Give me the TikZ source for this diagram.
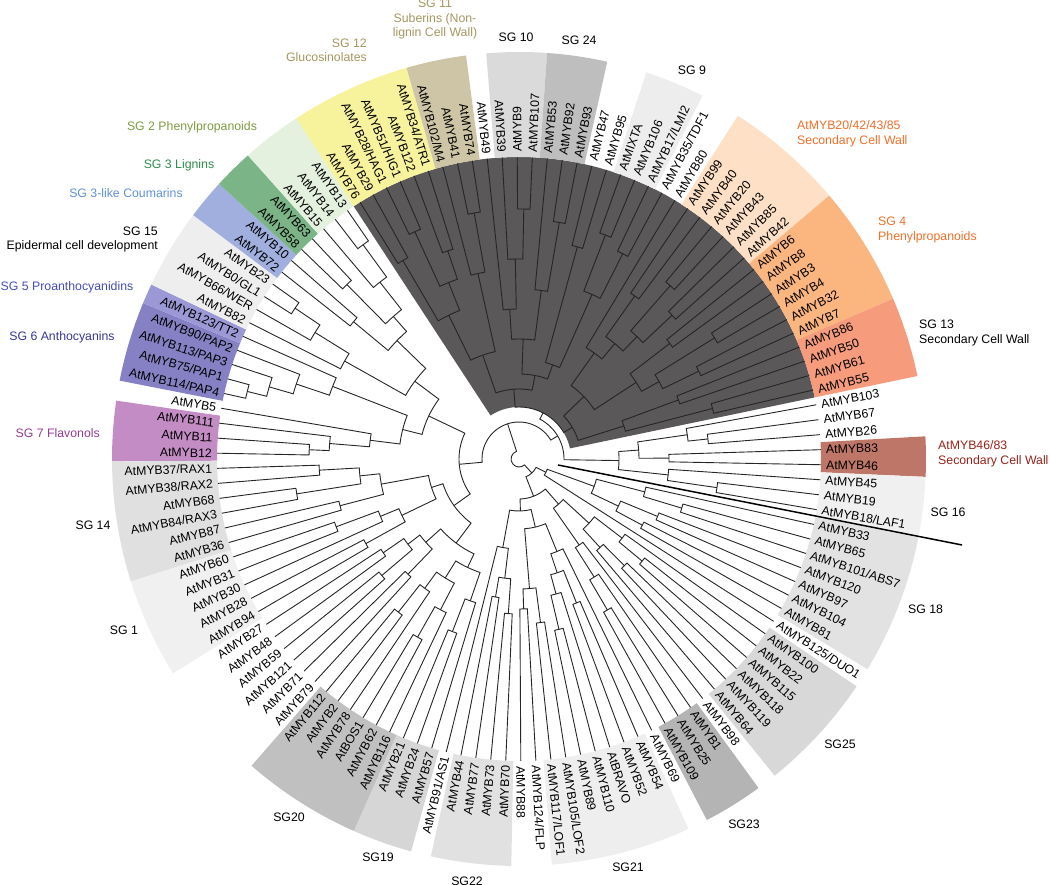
\documentclass[tikz,border=0pt]{standalone}
\usepackage{fontspec}
\setmainfont{Liberation Sans}
\usepackage{xcolor}
% band colours
\definecolor{clade}{RGB}{90,88,89}
\definecolor{sg1}{RGB}{240,240,240}
\definecolor{sg2}{RGB}{228,241,222}
\definecolor{sg3}{RGB}{122,180,135}
\definecolor{sg3l}{RGB}{160,175,222}
\definecolor{sg4}{RGB}{251,182,128}
\definecolor{sg5}{RGB}{155,152,214}
\definecolor{sg6}{RGB}{134,129,196}
\definecolor{sg7}{RGB}{196,140,196}
\definecolor{sg9}{RGB}{237,237,237}
\definecolor{sg10}{RGB}{218,218,218}
\definecolor{sg11}{RGB}{205,197,165}
\definecolor{sg12}{RGB}{247,243,157}
\definecolor{sg13}{RGB}{246,155,123}
\definecolor{sg14}{RGB}{224,224,224}
\definecolor{sg15}{RGB}{238,238,238}
\definecolor{sg16}{RGB}{240,240,240}
\definecolor{sg18}{RGB}{226,226,226}
\definecolor{sg19}{RGB}{214,214,214}
\definecolor{sg20}{RGB}{192,192,192}
\definecolor{sg21}{RGB}{238,238,238}
\definecolor{sg22}{RGB}{225,225,225}
\definecolor{sg23}{RGB}{180,180,180}
\definecolor{sg24}{RGB}{190,190,190}
\definecolor{sg25}{RGB}{216,216,216}
\definecolor{peach}{RGB}{253,224,197}
\definecolor{brownsg}{RGB}{190,118,104}
% title colours
\definecolor{txtolive}{RGB}{163,150,96}
\definecolor{txtorange}{RGB}{240,110,40}
\definecolor{txtbrown}{RGB}{150,35,25}
\definecolor{txtpurple}{RGB}{150,60,150}
\definecolor{txtindigo}{RGB}{55,55,150}
\definecolor{txtblue}{RGB}{70,75,185}
\definecolor{txtsky}{RGB}{95,145,215}
\definecolor{txtgreen}{RGB}{45,140,75}
\definecolor{txtlime}{RGB}{125,155,65}

% angle of leaf #1 (continuous, clockwise from AtMYB33)
\newcommand\leafangle[1]{\ifnum#1>66 \pgfmathsetmacro\lfang{178.9-2.857*#1}\else\pgfmathsetmacro\lfang{-181.1-2.857*#1}\fi}
% leaf and inner node of the circular tree
\newcommand\Lf[1]{\leafangle{#1}\xdef\retA{\lfang}\gdef\retR{302}}
\newcommand\Nd[3]{%
  \begingroup
  #2\let\angA\retA\let\radA\retR
  #3\let\angB\retA\let\radB\retR
  \draw[branch] (\angA:\radA) -- (\angA:#1) arc[start angle=\angA, end angle=\angB, radius=#1] -- (\angB:\radB);
  \pgfmathsetmacro\angM{(\angA+\angB)/2}%
  \xdef\retA{\angM}\xdef\retR{#1}%
  \endgroup}
% shaded sector over leaves #1..#2 between radii #3 and #4
\newcommand\sector[5]{%
  \leafangle{#1}\pgfmathsetmacro\secA{\lfang+1.4285}%
  \leafangle{#2}\pgfmathsetmacro\secB{\lfang-1.4285}%
  \fill[#5] (\secA:#3) arc[start angle=\secA, end angle=\secB, radius=#3] -- (\secB:#4) arc[start angle=\secB, end angle=\secA, radius=#4] -- cycle;}

% clades
\newcommand\cSGxviii{\Nd{80}{\Nd{130}{\Lf{67}}{\Nd{170}{\Lf{68}}{\Lf{69}}}}{\Nd{110}{\Nd{150}{\Lf{70}}{\Lf{71}}}{\Nd{140}{\Lf{72}}{\Lf{73}}}}}
\newcommand\cSGxxv{\Nd{95}{\Nd{130}{\Lf{75}}{\Nd{160}{\Lf{76}}{\Lf{77}}}}{\Nd{120}{\Nd{150}{\Lf{78}}{\Lf{79}}}{\Lf{80}}}}
\newcommand\cSGxxiii{\Nd{105}{\Lf{81}}{\Nd{140}{\Lf{82}}{\Nd{175}{\Lf{83}}{\Lf{84}}}}}
\newcommand\cSGxxi{\Nd{70}{\Nd{100}{\Lf{85}}{\Nd{120}{\Nd{155}{\Lf{86}}{\Lf{87}}}{\Nd{140}{\Lf{88}}{\Nd{175}{\Lf{89}}{\Lf{90}}}}}}{\Nd{130}{\Nd{165}{\Lf{91}}{\Lf{92}}}{\Nd{150}{\Lf{93}}{\Lf{94}}}}}
\newcommand\cSGxxii{\Nd{90}{\Nd{120}{\Nd{155}{\Lf{95}}{\Lf{96}}}{\Nd{140}{\Lf{97}}{\Lf{98}}}}{\Lf{99}}}
\newcommand\cLower{\Nd{19}{\Nd{30}{\cSGxviii}{\Lf{74}}}{\Nd{40}{\Nd{60}{\cSGxxv}{\cSGxxiii}}{\Nd{52}{\cSGxxi}{\cSGxxii}}}}
\newcommand\cSGxx{\Nd{120}{\Nd{150}{\Lf{100}}{\Nd{185}{\Lf{101}}{\Lf{102}}}}{\Nd{140}{\Nd{170}{\Lf{103}}{\Nd{205}{\Lf{104}}{\Lf{105}}}}{\Nd{160}{\Lf{106}}{\Nd{195}{\Lf{107}}{\Lf{108}}}}}}
\newcommand\cWhite{\Nd{125}{\Nd{160}{\Lf{109}}{\Lf{110}}}{\Nd{140}{\Nd{180}{\Lf{111}}{\Lf{112}}}{\Nd{165}{\Lf{113}}{\Lf{114}}}}}
\newcommand\cSGi{\Nd{130}{\Nd{175}{\Lf{115}}{\Lf{116}}}{\Nd{150}{\Lf{117}}{\Nd{195}{\Lf{118}}{\Lf{119}}}}}
\newcommand\cSGxiv{\Nd{140}{\Nd{185}{\Lf{120}}{\Lf{121}}}{\Nd{160}{\Nd{225}{\Lf{122}}{\Lf{123}}}{\Nd{200}{\Lf{124}}{\Lf{125}}}}}
\newcommand\cSGvii{\Nd{150}{\Nd{190}{\Nd{210}{\Lf{0}}{\Lf{1}}}{\Lf{2}}}{\Lf{3}}}
\newcommand\cSGvi{\Nd{200}{\Nd{235}{\Nd{260}{\Nd{280}{\Lf{4}}{\Lf{5}}}{\Lf{6}}}{\Lf{7}}}{\Lf{8}}}
\newcommand\cSGxv{\Nd{200}{\Lf{9}}{\Nd{240}{\Lf{10}}{\Nd{270}{\Lf{11}}{\Lf{12}}}}}
\newcommand\cSGiii{\Nd{170}{\Nd{215}{\Lf{13}}{\Lf{14}}}{\Nd{190}{\Nd{245}{\Lf{15}}{\Lf{16}}}{\Nd{225}{\Lf{17}}{\Nd{265}{\Lf{18}}{\Lf{19}}}}}}
\newcommand\cLeft{\Nd{60}{\Nd{80}{\Nd{105}{\cSGxx}{\cWhite}}{\Nd{92}{\cSGi}{\cSGxiv}}}{\Nd{100}{\Nd{120}{\cSGvii}{\cSGvi}}{\Nd{130}{\cSGxv}{\cSGiii}}}}
\newcommand\cSGxii{\Nd{160}{\Nd{230}{\Lf{20}}{\Lf{21}}}{\Nd{190}{\Nd{250}{\Lf{22}}{\Lf{23}}}{\Nd{220}{\Lf{24}}{\Lf{25}}}}}
\newcommand\cSGxi{\Nd{190}{\Lf{26}}{\Nd{250}{\Lf{27}}{\Lf{28}}}}
\newcommand\cSGx{\Nd{150}{\Lf{29}}{\Nd{200}{\Lf{30}}{\Nd{250}{\Lf{31}}{\Lf{32}}}}}
\newcommand\cSGxxiv{\Nd{170}{\Lf{33}}{\Nd{240}{\Lf{34}}{\Lf{35}}}}
\newcommand\cSGix{\Nd{180}{\Nd{240}{\Lf{38}}{\Lf{39}}}{\Nd{230}{\Lf{40}}{\Lf{41}}}}
\newcommand\cPeach{\Nd{150}{\Nd{200}{\Lf{43}}{\Lf{44}}}{\Nd{170}{\Nd{230}{\Lf{45}}{\Lf{46}}}{\Nd{210}{\Lf{47}}{\Lf{48}}}}}
\newcommand\cSGiv{\Nd{140}{\Nd{190}{\Lf{49}}{\Lf{50}}}{\Nd{160}{\Nd{230}{\Lf{51}}{\Lf{52}}}{\Nd{200}{\Lf{53}}{\Lf{54}}}}}
\newcommand\cSGxiii{\Nd{110}{\Nd{170}{\Lf{55}}{\Lf{56}}}{\Nd{200}{\Lf{57}}{\Lf{58}}}}
\newcommand\cDark{\Nd{52}{\Nd{70}{\Nd{110}{\cSGxii}{\cSGxi}}{\Nd{85}{\Nd{120}{\cSGx}{\cSGxxiv}}{\Nd{100}{\Nd{220}{\Lf{36}}{\Lf{37}}}{\cSGix}}}}{\Nd{62}{\Nd{90}{\Nd{130}{\Lf{42}}{\cPeach}}{\cSGiv}}{\cSGxiii}}}
\newcommand\cRight{\Nd{100}{\Nd{120}{\Nd{170}{\Lf{59}}{\Nd{190}{\Lf{60}}{\Lf{61}}}}{\Nd{150}{\Lf{62}}{\Lf{63}}}}{\Nd{150}{\Lf{64}}{\Nd{200}{\Lf{65}}{\Lf{66}}}}}

\begin{document}
\begin{tikzpicture}[x=1pt, y=1pt,
    branch/.style={draw=black!85, line width=0.9pt},
    leaflab/.style={inner sep=1pt, text height=8.8pt, text depth=0pt,
                    font={\fontsize{12.3}{14}\selectfont}},
    sgtitle/.style={inner sep=0pt, font={\fontsize{12.3}{14.5}\selectfont}},
    sepline/.style={draw=black, line width=1.5pt}
]
\useasboundingbox (0,0) rectangle (1050,885);
\coordinate (C) at (519,426);

\begin{scope}[shift={(C)}]
% shaded clade and subgroup bands
\sector{20}{58}{52}{302}{clade}
\sector{0}{2}{302}{407}{sg7}
\sector{4}{7}{302}{407}{sg6}
\sector{8}{8}{302}{407}{sg5}
\sector{9}{12}{302}{407}{sg15}
\sector{13}{14}{302}{407}{sg3l}
\sector{15}{16}{302}{407}{sg3}
\sector{17}{19}{302}{407}{sg2}
\sector{20}{25}{302}{407}{sg12}
\sector{26}{28}{302}{407}{sg11}
\sector{30}{32}{302}{407}{sg10}
\sector{33}{35}{302}{407}{sg24}
\sector{38}{40}{302}{407}{sg9}
\sector{43}{48}{302}{407}{peach}
\sector{49}{54}{302}{407}{sg4}
\sector{55}{58}{302}{407}{sg13}
\sector{62}{63}{302}{407}{brownsg}
\sector{64}{66}{302}{407}{sg16}
\sector{67}{73}{302}{407}{sg18}
\sector{75}{80}{302}{407}{sg25}
\sector{82}{84}{302}{407}{sg23}
\sector{86}{92}{302}{407}{sg21}
\sector{95}{98}{302}{407}{sg22}
\sector{100}{102}{302}{407}{sg19}
\sector{103}{108}{302}{407}{sg20}
\sector{115}{119}{302}{407}{sg1}
\sector{120}{125}{302}{407}{sg14}

% tree
\Nd{8}{\cLower}{\Nd{37}{\cLeft}{\Nd{45}{\cDark}{\cRight}}}

% leaf labels
\foreach \nm [count=\i from 0] in {AtMYB12, AtMYB11, AtMYB111, AtMYB5, AtMYB114/PAP4,
    AtMYB75/PAP1, AtMYB113/PAP3, AtMYB90/PAP2, AtMYB123/TT2, AtMYB82, AtMYB66/WER,
    AtMYB0/GL1, AtMYB23, AtMYB72, AtMYB10, AtMYB58, AtMYB63, AtMYB15, AtMYB14, AtMYB13,
    AtMYB76, AtMYB29, AtMYB28/HAG1, AtMYB51/HIG1, AtMYB122, AtMYB34/ATR1, AtMYB102/M4,
    AtMYB41, AtMYB74, AtMYB49, AtMYB39, AtMYB9, AtMYB107, AtMYB53, AtMYB92, AtMYB93,
    AtMYB47, AtMYB95, AtMIXTA, AtMYB106, AtMYB17/LMI2, AtMYB35/TDF1, AtMYB80, AtMYB99,
    AtMYB40, AtMYB20, AtMYB43, AtMYB85, AtMYB42, AtMYB6, AtMYB8, AtMYB3, AtMYB4, AtMYB32,
    AtMYB7, AtMYB86, AtMYB50, AtMYB61, AtMYB55, AtMYB103, AtMYB67, AtMYB26, AtMYB83,
    AtMYB46, AtMYB45, AtMYB19, AtMYB18/LAF1, AtMYB33, AtMYB65, AtMYB101/ABS7, AtMYB120,
    AtMYB97, AtMYB104, AtMYB81, AtMYB125/DUO1, AtMYB100, AtMYB22, AtMYB115, AtMYB118,
    AtMYB119, AtMYB64, AtMYB98, AtMYB1, AtMYB25, AtMYB109, AtMYB69, AtMYB54, AtMYB52,
    AtBRAVO, AtMYB110, AtMYB89, AtMYB105/LOF2, AtMYB117/LOF1, AtMYB124/FLP, AtMYB88,
    AtMYB70, AtMYB73, AtMYB77, AtMYB44, AtMYB91/AS1, AtMYB57, AtMYB24, AtMYB21, AtMYB116,
    AtMYB62, AtBOS1, AtMYB78, AtMYB2, AtMYB112, AtMYB79, AtMYB71, AtMYB121, AtMYB59,
    AtMYB48, AtMYB27, AtMYB94, AtMYB28, AtMYB30, AtMYB31, AtMYB60, AtMYB36, AtMYB87,
    AtMYB84/RAX3, AtMYB68, AtMYB38/RAX2, AtMYB37/RAX1}{
  \leafangle{\i}
  \pgfmathtruncatemacro\rside{and(\i>30,\i<95)}
  \ifnum\rside=1
    \node[leaflab, anchor=west, rotate=\lfang] (lf\i) at (\lfang:306) {\nm};
  \else
    \pgfmathsetmacro\lrot{\lfang+180}
    \node[leaflab, anchor=east, rotate=\lrot] (lf\i) at (\lfang:306) {\nm};
  \fi
}
\end{scope}

% separator line
\coordinate (sepA) at (558,420);
\coordinate (sepB) at (962,340);
\draw[sepline] (sepA) -- (sepB);

% subgroup titles
\node[sgtitle, text=txtolive, align=center] (tSGxi) at (435,866) {SG 11\\Suberins (Non-\\lignin Cell Wall)};
\node[sgtitle, text=txtolive, align=right, anchor=east] (tSGxii) at (367,834.5) {SG 12\\Glucosinolates};
\node[sgtitle] (tSGx) at (516,848) {SG 10};
\node[sgtitle] (tSGxxiv) at (579,845) {SG 24};
\node[sgtitle] (tSGix) at (692,815) {SG 9};
\node[sgtitle, text=txtorange, align=left, anchor=west] (tpeach) at (797,751) {AtMYB20/42/43/85\\Secondary Cell Wall};
\node[sgtitle, text=txtorange, align=left, anchor=west] (tSGiv) at (878,655) {SG 4\\Phenylpropanoids};
\node[sgtitle, align=left, anchor=west] (tSGxiii) at (919,552) {SG 13\\Secondary Cell Wall};
\node[sgtitle, text=txtbrown, align=left, anchor=west] (tbrown) at (938,431) {AtMYB46/83\\Secondary Cell Wall};
\node[sgtitle] (tSGxvi) at (948,373) {SG 16};
\node[sgtitle, anchor=west] (tSGxviii) at (908,276) {SG 18};
\node[sgtitle] (tSGxxv) at (840,141) {SG25};
\node[sgtitle] (tSGxxiii) at (744,61) {SG23};
\node[sgtitle] (tSGxxi) at (628,18) {SG21};
\node[sgtitle] (tSGxxii) at (467,4) {SG22};
\node[sgtitle] (tSGxix) at (378,28) {SG19};
\node[sgtitle] (tSGxx) at (289,68) {SG20};
\node[sgtitle] (tSGi) at (124,255) {SG 1};
\node[sgtitle] (tSGxiv) at (93,360) {SG 14};
\node[sgtitle, text=txtpurple, anchor=east] (tSGvii) at (100,452) {SG 7 Flavonols};
\node[sgtitle, text=txtindigo] (tSGvi) at (62,548) {SG 6 Anthocyanins};
\node[sgtitle, text=txtblue] (tSGv) at (67,598) {SG 5 Proanthocyanidins};
\node[sgtitle, align=right, anchor=east] (tSGxv) at (158,645.5) {SG 15\\Epidermal cell development};
\node[sgtitle, text=txtsky] (tSGiiil) at (126,692) {SG 3-like Coumarins};
\node[sgtitle, text=txtgreen] (tSGiii) at (179,720) {SG 3 Lignins};
\node[sgtitle, text=txtlime] (tSGii) at (192,758) {SG 2 Phenylpropanoids};
\end{tikzpicture}
\end{document}
